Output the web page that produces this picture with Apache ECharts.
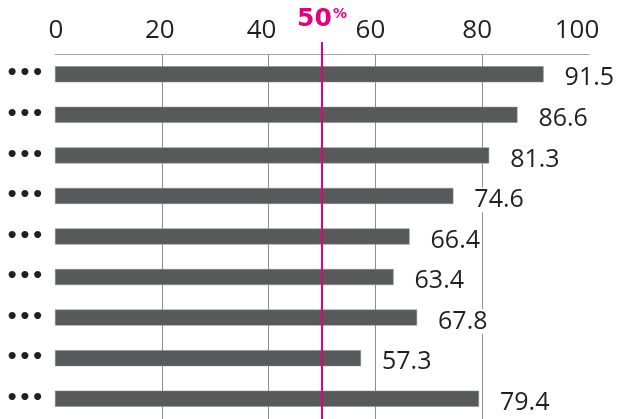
<!DOCTYPE html>
<html><head><meta charset="utf-8">
<script src="https://cdn.jsdelivr.net/npm/echarts@6/dist/echarts.min.js"></script>
<style>html,body{margin:0;padding:0;background:#fff}#c{width:617px;height:419px}</style>
</head><body><div id="c"></div>
<script>
const categories = ['•••','•••','•••','•••','•••','•••','•••','•••','•••'];
const values = [91.5, 86.6, 81.3, 74.6, 66.4, 63.4, 67.8, 57.3, 79.4];
const xTicks = [0, 20, 40, 60, 80, 100];
const refValue = 50;
const refLabel = '50';

// small horizontal nudges of the top tick labels, as in the original artwork
const tickShift = {0: 1, 20: -2, 40: -7, 60: -5, 80: -5, 100: -12};
const gridTop = 54;

const chart = echarts.init(document.getElementById('c'), null, {renderer: 'canvas'});
chart.setOption({
  animation: false,
  textStyle: {fontFamily: 'Open Sans'},
  grid: {left: 55, right: 28, top: gridTop, height: 373.5},
  xAxis: {
    type: 'value', position: 'top', min: 0, max: 100, interval: 20,
    axisLine: {show: true, lineStyle: {color: '#a6a6a6', width: 1}},
    axisTick: {show: false},
    axisLabel: {show: false},
    splitLine: {show: true, showMinLine: false, showMaxLine: false, lineStyle: {color: '#8f8f8f', width: 1}}
  },
  yAxis: {
    type: 'category', data: categories, inverse: true,
    axisLine: {show: false}, axisTick: {show: false},
    axisLabel: {fontSize: 20, fontWeight: 'bold', color: '#231f20', margin: 11, fontFamily: 'DejaVu Sans', padding: [2, 0, 0, 0]}
  },
  series: [{
    type: 'bar', data: values, barWidth: 16,
    itemStyle: {color: '#58595b', borderColor: '#8a8a8a', borderWidth: 0.5},
    label: {show: true, position: 'right', distance: 20, offset: [0, 4],
      fontSize: 25, color: '#231f20', backgroundColor: '#fff',
      padding: [0, 1]},
    markLine: {
      symbol: 'none', silent: true,
      lineStyle: {color: '#e5007e', width: 2, type: 'solid'},
      data: [{xAxis: refValue}],
      label: {show: true, position: 'start', distance: 22,
        fontSize: 25, fontWeight: 'bold', color: '#e5007e', fontFamily: 'DejaVu Sans',
        formatter: '{a|' + refLabel + '}{b|%}',
        rich: {
          a: {fontSize: 25, fontWeight: 'bold', color: '#e5007e'},
          b: {fontSize: 14, fontWeight: 'bold', color: '#e5007e', verticalAlign: 'top', padding: [0, 0, 6, 1]}
        }
      }
    }
  }]
});

// tick labels placed from the axis scale, with the original's nudges
const graphics = xTicks.map(v => {
  const px = chart.convertToPixel({xAxisIndex: 0}, v);
  return {
    type: 'text', silent: true,
    x: px + (tickShift[v] || 0), y: gridTop - 10,
    style: {text: String(v), fill: '#231f20', fontSize: 26, fontFamily: 'Open Sans',
      align: 'center', verticalAlign: 'bottom'}
  };
});
// short extension of the 50 line above the axis line
const refPx = chart.convertToPixel({xAxisIndex: 0}, refValue);
graphics.push({type: 'line', silent: true,
  shape: {x1: refPx, y1: gridTop - 12, x2: refPx, y2: gridTop},
  style: {stroke: '#e5007e', lineWidth: 2}});
chart.setOption({graphic: graphics});
</script></body></html>
